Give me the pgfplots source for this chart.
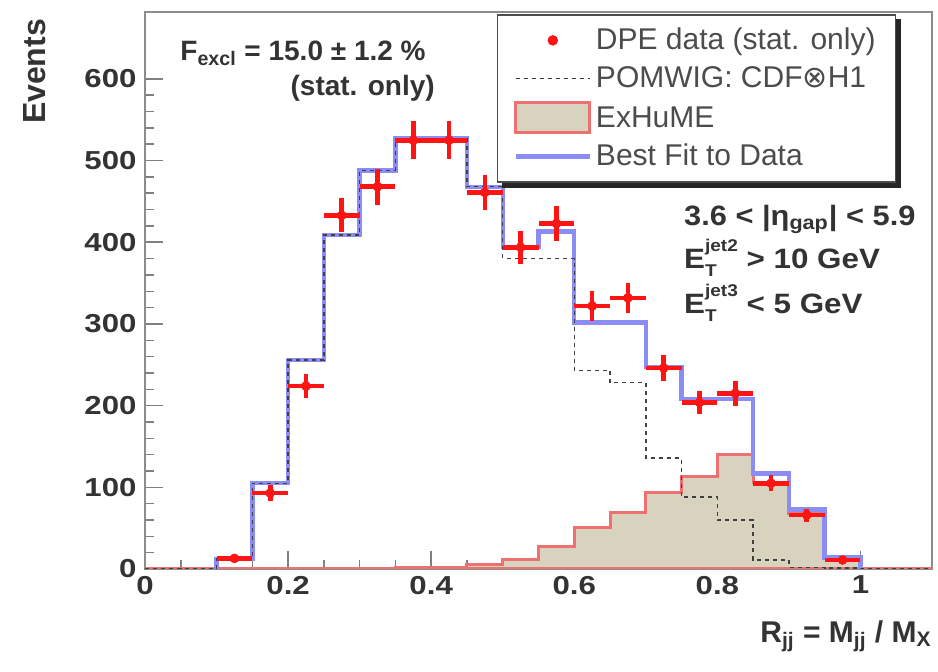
\documentclass[border=0pt]{standalone}
\usepackage{pgfplots}
\pgfplotsset{compat=1.18}
\usepackage{fontspec}
\setmainfont{Liberation Sans}
\newfontfamily\dejavu{DejaVu Sans}
\definecolor{exfill}{RGB}{216,211,190}
\definecolor{exline}{RGB}{238,112,112}
\definecolor{fitblue}{RGB}{140,140,245}
\definecolor{datared}{RGB}{255,20,20}
\newcommand{\supsub}[2]{\rlap{\raisebox{-0.3em}{\fontsize{8.5}{8.5}\selectfont #2}}\raisebox{0.6em}{\fontsize{8.5}{8.5}\selectfont #1}}
\begin{document}
\begin{tikzpicture}
\path[use as bounding box] (-72.5pt,-51.5pt) rectangle (396.5pt,284.5pt);
\begin{axis}[
  at={(0,0)}, anchor=south west,
  scale only axis,
  width=393.5pt, height=278.5pt,
  xmin=0, xmax=1.1, ymin=0, ymax=682,
  axis line style={black!45, line width=1pt},
  xtick={0,0.2,0.4,0.6,0.8,1},
  xticklabels={0,0.2,0.4,0.6,0.8,1},
  ytick={0,100,200,300,400,500,600},
  minor x tick num=3, minor y tick num=4,
  tick align=inside, xtick pos=left, ytick pos=left,
  major tick length=9pt, minor tick length=4.5pt,
  tick style={black!50, line width=0.8pt},
  /pgf/number format/assume math mode=true,
  ticklabel style={font=\bfseries\fontsize{13}{13}\selectfont, text=black!80, xscale=1.2},
  ylabel={Events},
  ylabel style={at={(axis description cs:-0.14,1.0)}, anchor=east, rotate=0, font=\bfseries\fontsize{16}{16}\selectfont, text=black!80},
  xlabel={R\textsubscript{jj} = M\textsubscript{jj} / M\textsubscript{X}},
  xlabel style={at={(axis description cs:1.0,-0.092)}, anchor=north east, inner sep=0pt, font=\bfseries\fontsize{15}{15}\selectfont, text=black!80},
  legend style={name=leg, at={(axis description cs:0.447,0.996)}, anchor=north west,
    draw=black!70, line width=0.8pt, fill=white,
    font=\fontsize{15}{15}\selectfont, text=black!70,
    inner xsep=8pt, inner ysep=4.5pt, row sep=3pt},
  legend cell align=left,
]
\addlegendimage{legend image code/.code={\fill[datared] (18.5pt,0pt) circle (2.2pt);}}
\addlegendentry{DPE data (stat. only)\hspace{30pt}}
\addlegendimage{legend image code/.code={\draw[black!75, line width=0.7pt, dash pattern=on 2pt off 2pt] (0pt,0pt) -- (37pt,0pt);}}
\addlegendentry{POMWIG: CDF{\dejavu ⊗}H1}
\addlegendimage{legend image code/.code={\draw[fill=exfill, draw=exline, line width=1.5pt] (0pt,-7pt) rectangle (37pt,8pt);}}
\addlegendentry{ExHuME}
\addlegendimage{legend image code/.code={\draw[fitblue, line width=2.2pt] (0pt,0pt) -- (37pt,0pt);}}
\addlegendentry{Best Fit to Data}
% ExHuME (filled)
\addplot[forget plot, const plot mark left, fill=exfill, draw=exline, line width=1.5pt]
  coordinates {(0,0) (0.05,0) (0.1,0) (0.15,0) (0.2,0) (0.25,0) (0.3,0) (0.35,2) (0.4,2) (0.45,5) (0.5,12) (0.55,27) (0.6,51) (0.65,69) (0.7,94) (0.75,113) (0.8,140) (0.85,106) (0.9,68) (0.95,14) (1.0,0) (1.05,0) (1.1,0)} \closedcycle;
% Best fit
\addplot[forget plot, const plot mark left, draw=fitblue, line width=2.2pt]
  coordinates {(0.1,0) (0.1,12) (0.15,105) (0.2,256) (0.25,409) (0.3,488) (0.35,527) (0.4,527) (0.45,468) (0.5,394) (0.55,413) (0.6,302) (0.65,302) (0.7,247) (0.75,208) (0.8,208) (0.85,117) (0.9,73) (0.95,14) (1.0,0)};
% POMWIG
\addplot[forget plot, const plot mark left, draw=black!75, line width=0.7pt, dash pattern=on 2pt off 2pt]
  coordinates {(0,0) (0.05,0) (0.1,12) (0.15,105) (0.2,256) (0.25,409) (0.3,488) (0.35,527) (0.4,527) (0.45,468) (0.5,380) (0.55,380) (0.6,243) (0.65,228) (0.7,136) (0.75,88) (0.8,60) (0.85,11) (0.9,2) (0.95,1) (1.0,0) (1.1,0)};
% Data
\addplot[forget plot, only marks, mark=*, mark size=2.2pt, color=datared,
  error bars/.cd, x dir=both, x explicit, y dir=both, y explicit,
  error mark=none, error bar style={line width=2.3pt, datared}]
  coordinates {
  (0.125,13) +- (0.025,4)
  (0.175,93) +- (0.025,10)
  (0.225,224) +- (0.025,15)
  (0.275,433) +- (0.025,21)
  (0.325,468) +- (0.025,22)
  (0.375,525) +- (0.025,23)
  (0.425,525) +- (0.025,23)
  (0.475,461) +- (0.025,21)
  (0.525,394) +- (0.025,20)
  (0.575,423) +- (0.025,21)
  (0.625,322) +- (0.025,18)
  (0.675,332) +- (0.025,18)
  (0.725,246) +- (0.025,16)
  (0.775,204) +- (0.025,14)
  (0.825,215) +- (0.025,15)
  (0.875,105) +- (0.025,10)
  (0.925,66) +- (0.025,8)
  (0.975,11) +- (0.025,3)
  };
\node[anchor=base west, font=\bfseries\fontsize{14}{14}\selectfont, text=black!80, inner sep=0pt] at (axis cs:0.049,622) {F\textsubscript{excl} = 15.0 ± 1.2 \%};
\node[anchor=base west, font=\bfseries\fontsize{14}{14}\selectfont, text=black!80, inner sep=0pt] at (axis cs:0.203,580) {(stat. only)};
\node[anchor=base west, font=\bfseries\fontsize{14}{14}\selectfont, text=black!80, inner sep=0pt, xscale=1.1] at (axis cs:0.753,421) {3.6 < |η\textsubscript{gap}| < 5.9};
\node[anchor=base west, font=\bfseries\fontsize{14}{14}\selectfont, text=black!80, inner sep=0pt, xscale=1.12] at (axis cs:0.753,368) {E\supsub{jet2}{T} > 10 GeV};
\node[anchor=base west, font=\bfseries\fontsize{14}{14}\selectfont, text=black!80, inner sep=0pt, xscale=1.12] at (axis cs:0.753,313) {E\supsub{jet3}{T} < 5 GeV};
\end{axis}
\fill[black!85] ([xshift=2.5pt,yshift=-2.5pt]leg.south west) rectangle ([xshift=2.5pt]leg.south east);
\fill[black!85] ([yshift=-2.5pt]leg.south east) rectangle ([xshift=2.5pt,yshift=-2.5pt]leg.north east);
\end{tikzpicture}
\end{document}
